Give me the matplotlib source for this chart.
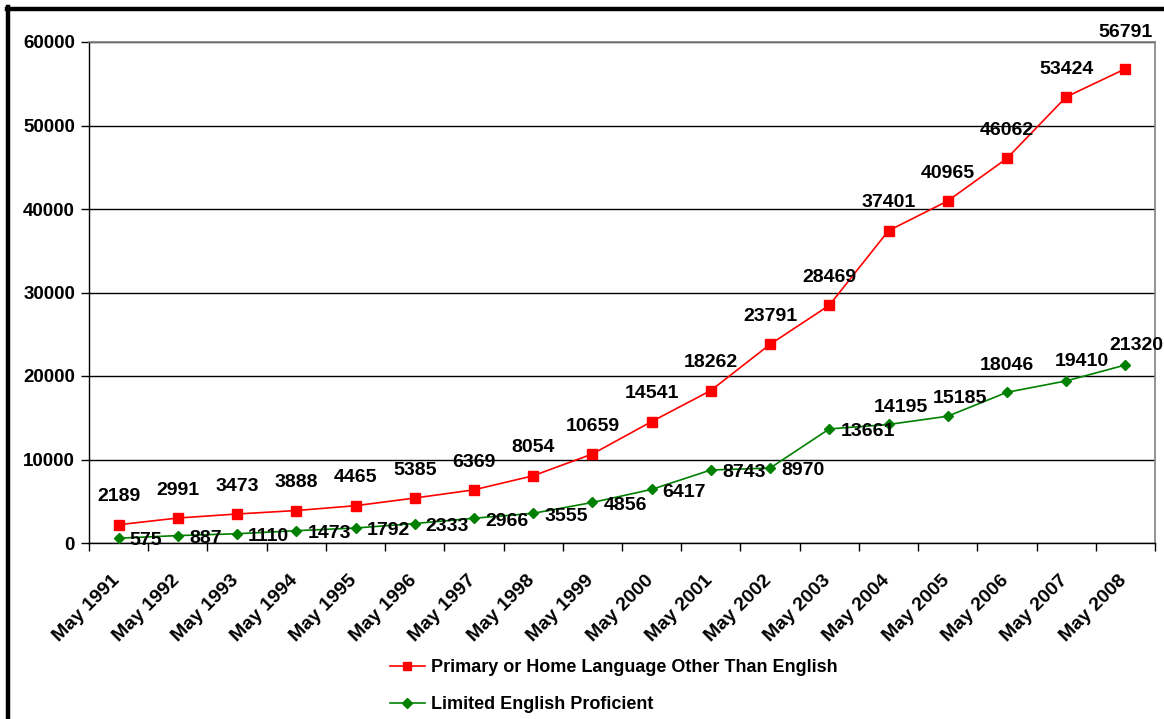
import matplotlib
matplotlib.use("Agg")
import matplotlib.pyplot as plt
from matplotlib.lines import Line2D
import matplotlib.transforms as mtransforms
import numpy as np

categories = ["May 1991", "May 1992", "May 1993", "May 1994", "May 1995", "May 1996",
              "May 1997", "May 1998", "May 1999", "May 2000", "May 2001", "May 2002",
              "May 2003", "May 2004", "May 2005", "May 2006", "May 2007", "May 2008"]
primary = [2189, 2991, 3473, 3888, 4465, 5385, 6369, 8054, 10659, 14541, 18262, 23791,
           28469, 37401, 40965, 46062, 53424, 56791]
lep = [575, 887, 1110, 1473, 1792, 2333, 2966, 3555, 4856, 6417, 8743, 8970,
       13661, 14195, 15185, 18046, 19410, 21320]
series_names = ["Primary or Home Language Other Than English", "Limited English Proficient"]

plt.rcParams['font.family'] = ['Liberation Sans', 'DejaVu Sans']
plt.rcParams['font.weight'] = 'bold'

fig = plt.figure(figsize=(11.64, 7.19), dpi=100)
W, H = 1164, 719
ax = fig.add_axes([89 / W, 1 - 543 / H, (1155 - 89) / W, (543 - 42) / H])

x = np.arange(len(categories))
ax.plot(x, primary, color='#ff0000', lw=1.2, marker='s', ms=6.5, zorder=3, label=series_names[0])
ax.plot(x, lep, color='#008000', lw=1.2, marker='D', ms=5.5, zorder=3, label=series_names[1])

ax.set_xlim(-0.5, len(categories) - 0.5)
ax.set_ylim(0, 60000)
ax.set_yticks(np.arange(0, 60001, 10000))
ax.tick_params(axis='y', labelsize=13.5, length=6, width=1, direction='out', pad=4)
for lab in ax.get_yticklabels():
    lab.set_fontweight('bold')
ax.yaxis.grid(True, color='black', lw=1)
ax.set_axisbelow(True)

ax.set_xticks(x)
ax.set_xticklabels(categories, rotation=45, ha='right', rotation_mode='anchor',
                   fontsize=14, fontweight='bold')
ax.tick_params(axis='x', which='major', length=0, pad=21)
shift = mtransforms.ScaledTranslation(-7 / 100, 0, fig.dpi_scale_trans)
for lab in ax.get_xticklabels():
    lab.set_transform(lab.get_transform() + shift)
ax.set_xticks(np.arange(-0.5, len(categories), 1), minor=True)
ax.tick_params(axis='x', which='minor', length=6, width=1, direction='out')

for s in ['left', 'bottom']:
    ax.spines[s].set_color('black')
    ax.spines[s].set_linewidth(1)
for s in ['right', 'top']:
    ax.spines[s].set_color('#808080')
    ax.spines[s].set_linewidth(1.2)

# red labels: centered above (offset in points)
red_off = [(0, 20)] * 17 + [(0, 26)]
for i, v in enumerate(primary):
    ax.annotate(str(v), (x[i], v), xytext=red_off[i], textcoords='offset points',
                ha='center', va='center', fontsize=14, fontweight='bold', zorder=5)
# green labels: first 13 to the right, rest above
for i, v in enumerate(lep):
    if i <= 12:
        ax.annotate(str(v), (x[i], v), xytext=(8, -2), textcoords='offset points',
                    ha='left', va='center', fontsize=14, fontweight='bold', zorder=5)
    else:
        above = {13: (9, 12), 14: (9, 13), 15: (0, 19.5), 16: (11.5, 14), 17: (8, 14)}[i]
        ax.annotate(str(v), (x[i], v), xytext=above, textcoords='offset points',
                    ha='center', va='center', fontsize=14, fontweight='bold', zorder=5)

leg = fig.legend(loc='upper left', bbox_to_anchor=(374 / W, 1 - 643 / H), frameon=False,
                 prop={'weight': 'bold', 'size': 13}, handlelength=1.9,
                 handletextpad=0.35, labelspacing=1.1, markerscale=0.85)

# figure border (left and top)
fig.add_artist(Line2D([8 / W, 8 / W], [0, 1 - 7 / H], color='black', lw=3.2,
                      transform=fig.transFigure))
fig.add_artist(Line2D([6.5 / W, 1], [1 - 9 / H, 1 - 9 / H], color='black', lw=3.2,
                      transform=fig.transFigure))

fig.savefig('out.png', dpi=100)
